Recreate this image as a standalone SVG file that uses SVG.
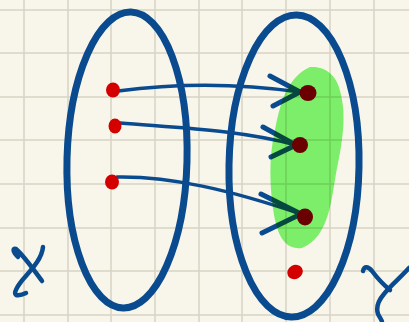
<svg xmlns="http://www.w3.org/2000/svg" width="409" height="322" viewBox="0 0 409 322">
  <defs>
    <style>
      .grid { stroke: #d6d4c5; stroke-width: 1.5; }
      .set { fill: none; stroke: #0a4a8e; stroke-width: 7; }
      .dot { fill: #d40000; }
      .arrow { fill: none; stroke: #0a4a8e; stroke-width: 3.5; stroke-linecap: round; }
      .barb { fill: none; stroke: #0a4a8e; stroke-width: 5; stroke-linecap: round; }
      .label { fill: none; stroke: #0a4a8e; stroke-width: 4.5; stroke-linecap: round; stroke-linejoin: round; }
    </style>
  </defs>
  <rect width="409" height="322" fill="#f8f5ea"/>
  <g id="grid">
    <path class="grid" d="M24 0V322M68 0V322M111 0V322M155 0V322M199 0V322M242 0V322M286 0V322M330 0V322M374 0V322M0 10H409M0 53H409M0 97H409M0 140H409M0 184H409M0 228H409M0 271H409M0 315H409"/>
  </g>
  <g id="set-X">
    <ellipse class="set" cx="127" cy="160" rx="60" ry="148" transform="rotate(1.5 127 160)"/>
  </g>
  <g id="set-Y">
    <ellipse class="set" cx="294" cy="166" rx="65" ry="151" transform="rotate(1 294 166)"/>
  </g>
  <g id="connectors">
    <path class="arrow" d="M118 91 C 170 84, 230 82, 300 92"/>
    <path class="barb" d="M270 76 L300 92 L273 106"/>
    <path class="arrow" d="M120 123 C 180 128, 240 130, 296 145"/>
    <path class="barb" d="M263 127 L296 145 L271 157"/>
    <path class="arrow" d="M117 177 C 170 176, 230 190, 301 214"/>
    <path class="barb" d="M261 194 L301 214 L262 233"/>
  </g>
  <g id="dots-X">
    <ellipse class="dot" cx="113" cy="90" rx="7" ry="7.5"/>
    <ellipse class="dot" cx="115" cy="126" rx="6.5" ry="7.5"/>
    <ellipse class="dot" cx="112" cy="182" rx="7" ry="7.5"/>
  </g>
  <g id="dots-Y">
    <ellipse class="dot" cx="308" cy="93" rx="8.5" ry="8"/>
    <ellipse class="dot" cx="300" cy="145" rx="8" ry="8"/>
    <ellipse class="dot" cx="305" cy="217" rx="8" ry="8.5"/>
    <ellipse class="dot" cx="295" cy="272" rx="8" ry="7" transform="rotate(-30 295 272)"/>
  </g>
  <g id="image-region">
    <path d="M310 67 C 326 66, 338 76, 341 95 C 346 115, 343 140, 337 168 C 331 200, 330 236, 302 248 C 285 250, 278 236, 274 215 C 270 190, 268 160, 275 130 C 280 105, 286 78, 310 67 Z" fill="#80f872" style="mix-blend-mode: multiply"/>
  </g>
  <g id="label-X">
    <path class="label" d="M18 257 C 13 252, 12 248, 16 249 C 24 256, 34 270, 42 281"/>
    <path class="label" d="M43 247 C 42 258, 33 268, 25 277 C 18 285, 13 293, 16 295 C 20 296, 24 294, 26 293"/>
  </g>
  <g id="label-Y">
    <path class="label" d="M363 271 C 364 266, 368 266, 372 271 C 378 279, 385 286, 390 290"/>
    <path class="label" d="M409 268 C 400 278, 390 286, 384 294 C 378 301, 376 308, 378 314 C 380 318, 382 320, 382 322"/>
  </g>
</svg>
